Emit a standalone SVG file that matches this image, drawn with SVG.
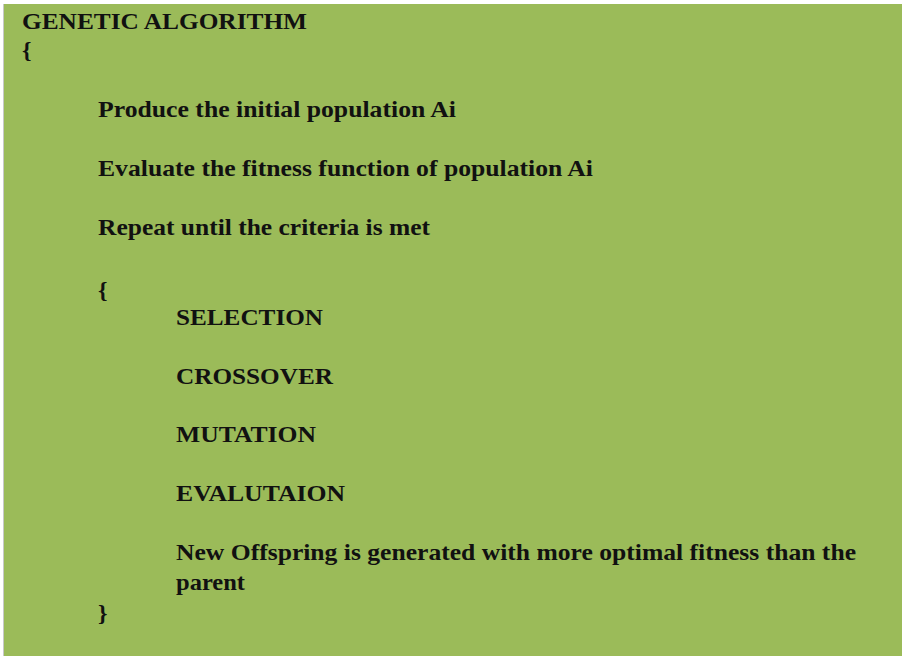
<svg xmlns="http://www.w3.org/2000/svg" width="902" height="656" viewBox="0 0 902 656">
  <style>
    .t { font-family: "Liberation Serif", "Times New Roman", serif; font-weight: bold; font-size: 22.5px; fill: #111; }
    .b { font-family: "Liberation Serif", "Times New Roman", serif; font-weight: bold; font-size: 24px; fill: #111; }
  </style>
  <rect x="0" y="0" width="902" height="656" fill="#ffffff"/>
  <line x1="3.5" y1="4" x2="3.5" y2="656" stroke="#c8c8c8" stroke-width="1"/>
  <rect id="panel" x="4" y="4" width="898" height="652" fill="#9bbb59"/>
  <g id="pseudocode">
    <text class="t" x="22" y="29" textLength="285" lengthAdjust="spacingAndGlyphs">GENETIC ALGORITHM</text>
    <text class="b" x="22" y="58">{</text>
    <text class="t" x="98" y="117" textLength="358" lengthAdjust="spacingAndGlyphs">Produce the initial population  Ai</text>
    <text class="t" x="98" y="176" textLength="495" lengthAdjust="spacingAndGlyphs">Evaluate the fitness function  of population  Ai</text>
    <text class="t" x="98" y="235" textLength="332" lengthAdjust="spacingAndGlyphs">Repeat until  the criteria is met</text>
    <text class="b" x="98" y="298">{</text>
    <text class="t" x="176" y="325" textLength="147" lengthAdjust="spacingAndGlyphs">SELECTION</text>
    <text class="t" x="176" y="384" textLength="157" lengthAdjust="spacingAndGlyphs">CROSSOVER</text>
    <text class="t" x="176" y="442" textLength="140" lengthAdjust="spacingAndGlyphs">MUTATION</text>
    <text class="t" x="176" y="501" textLength="169" lengthAdjust="spacingAndGlyphs">EVALUTAION</text>
    <text class="t" x="176" y="560" textLength="680" lengthAdjust="spacingAndGlyphs">New Offspring is generated with more optimal  fitness than the</text>
    <text class="t" x="176" y="590" textLength="69" lengthAdjust="spacingAndGlyphs">parent</text>
    <text class="b" x="98" y="621">}</text>
  </g>
</svg>
